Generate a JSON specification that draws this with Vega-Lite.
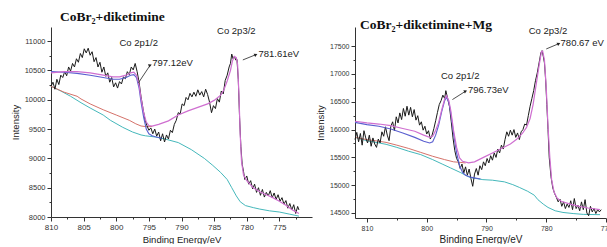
{
"$schema": "https://vega.github.io/schema/vega-lite/v6.json",
"padding": {"left": 10, "top": 10, "right": 0, "bottom": 0},
"spacing": 43,
"bounds": "flush",
"config": {
  "view": {"stroke": null},
  "font": "Liberation Sans",
  "axis": {"domainColor": "#333", "tickColor": "#333", "labelColor": "#333", "titleColor": "#222", "labelFont": "Liberation Sans", "titleFont": "Liberation Sans", "titleFontWeight": "normal", "grid": false, "labelFlush": false, "labelOverlap": false, "domainWidth": 1, "tickWidth": 1, "labelPadding": 2}
},
"datasets": {
"left": [
{"s":"k","E":810.0,"I":10230},{"s":"k","E":809.7,"I":10300},{"s":"k","E":809.4,"I":10180},{"s":"k","E":809.1,"I":10350},{"s":"k","E":808.8,"I":10260},{"s":"k","E":808.5,"I":10420},{"s":"k","E":808.2,"I":10380},{"s":"k","E":807.9,"I":10480},{"s":"k","E":807.6,"I":10410},{"s":"k","E":807.3,"I":10560},{"s":"k","E":807.0,"I":10490},{"s":"k","E":806.7,"I":10620},{"s":"k","E":806.4,"I":10560},{"s":"k","E":806.1,"I":10700},{"s":"k","E":805.8,"I":10640},{"s":"k","E":805.5,"I":10790},{"s":"k","E":805.2,"I":10720},{"s":"k","E":804.9,"I":10870},{"s":"k","E":804.6,"I":10800},{"s":"k","E":804.3,"I":10880},{"s":"k","E":804.0,"I":10760},{"s":"k","E":803.7,"I":10820},{"s":"k","E":803.4,"I":10650},{"s":"k","E":803.1,"I":10720},{"s":"k","E":802.8,"I":10560},{"s":"k","E":802.5,"I":10640},{"s":"k","E":802.2,"I":10470},{"s":"k","E":801.9,"I":10560},{"s":"k","E":801.6,"I":10400},{"s":"k","E":801.3,"I":10460},{"s":"k","E":801.0,"I":10300},{"s":"k","E":800.7,"I":10380},{"s":"k","E":800.4,"I":10220},{"s":"k","E":800.1,"I":10290},{"s":"k","E":799.8,"I":10200},{"s":"k","E":799.5,"I":10310},{"s":"k","E":799.2,"I":10270},{"s":"k","E":798.9,"I":10390},{"s":"k","E":798.6,"I":10360},{"s":"k","E":798.3,"I":10480},{"s":"k","E":798.0,"I":10430},{"s":"k","E":797.7,"I":10560},{"s":"k","E":797.4,"I":10510},{"s":"k","E":797.1,"I":10620},{"s":"k","E":796.8,"I":10480},{"s":"k","E":796.5,"I":10300},{"s":"k","E":796.2,"I":10050},{"s":"k","E":795.9,"I":9850},{"s":"k","E":795.6,"I":9660},{"s":"k","E":795.3,"I":9560},{"s":"k","E":795.0,"I":9480},{"s":"k","E":794.7,"I":9520},{"s":"k","E":794.4,"I":9420},{"s":"k","E":794.1,"I":9500},{"s":"k","E":793.8,"I":9380},{"s":"k","E":793.5,"I":9450},{"s":"k","E":793.2,"I":9300},{"s":"k","E":792.9,"I":9420},{"s":"k","E":792.6,"I":9280},{"s":"k","E":792.3,"I":9400},{"s":"k","E":792.0,"I":9330},{"s":"k","E":791.7,"I":9480},{"s":"k","E":791.4,"I":9440},{"s":"k","E":791.1,"I":9580},{"s":"k","E":790.8,"I":9650},{"s":"k","E":790.5,"I":9780},{"s":"k","E":790.2,"I":9760},{"s":"k","E":789.9,"I":9930},{"s":"k","E":789.6,"I":9900},{"s":"k","E":789.3,"I":10040},{"s":"k","E":789.0,"I":10000},{"s":"k","E":788.7,"I":10110},{"s":"k","E":788.4,"I":10050},{"s":"k","E":788.1,"I":10130},{"s":"k","E":787.8,"I":10060},{"s":"k","E":787.5,"I":10170},{"s":"k","E":787.2,"I":10080},{"s":"k","E":786.9,"I":10140},{"s":"k","E":786.6,"I":10050},{"s":"k","E":786.3,"I":10180},{"s":"k","E":786.0,"I":10090},{"s":"k","E":785.7,"I":9960},{"s":"k","E":785.4,"I":9780},{"s":"k","E":785.1,"I":9900},{"s":"k","E":784.8,"I":9850},{"s":"k","E":784.5,"I":10020},{"s":"k","E":784.2,"I":9960},{"s":"k","E":783.9,"I":10150},{"s":"k","E":783.6,"I":10100},{"s":"k","E":783.3,"I":10330},{"s":"k","E":783.0,"I":10420},{"s":"k","E":782.7,"I":10560},{"s":"k","E":782.5,"I":10620},{"s":"k","E":782.3,"I":10780},{"s":"k","E":782.1,"I":10700},{"s":"k","E":781.9,"I":10740},{"s":"k","E":781.7,"I":10680},{"s":"k","E":781.5,"I":10690},{"s":"k","E":781.3,"I":10350},{"s":"k","E":781.1,"I":9700},{"s":"k","E":780.9,"I":9200},{"s":"k","E":780.7,"I":8900},{"s":"k","E":780.5,"I":8780},{"s":"k","E":780.3,"I":8640},{"s":"k","E":780.0,"I":8700},{"s":"k","E":779.7,"I":8560},{"s":"k","E":779.4,"I":8620},{"s":"k","E":779.1,"I":8480},{"s":"k","E":778.8,"I":8560},{"s":"k","E":778.5,"I":8420},{"s":"k","E":778.2,"I":8500},{"s":"k","E":777.9,"I":8370},{"s":"k","E":777.6,"I":8470},{"s":"k","E":777.3,"I":8340},{"s":"k","E":777.0,"I":8420},{"s":"k","E":776.7,"I":8360},{"s":"k","E":776.4,"I":8450},{"s":"k","E":776.1,"I":8330},{"s":"k","E":775.8,"I":8410},{"s":"k","E":775.5,"I":8300},{"s":"k","E":775.2,"I":8380},{"s":"k","E":774.9,"I":8270},{"s":"k","E":774.6,"I":8330},{"s":"k","E":774.3,"I":8220},{"s":"k","E":774.0,"I":8280},{"s":"k","E":773.7,"I":8150},{"s":"k","E":773.4,"I":8230},{"s":"k","E":773.1,"I":8120},{"s":"k","E":772.8,"I":8210},{"s":"k","E":772.5,"I":8060},{"s":"k","E":772.2,"I":8180},{"s":"k","E":772.0,"I":8120},
{"s":"m","E":810,"I":10460},{"s":"m","E":808,"I":10480},{"s":"m","E":806,"I":10480},{"s":"m","E":804,"I":10460},{"s":"m","E":802,"I":10420},{"s":"m","E":800.5,"I":10390},{"s":"m","E":799.5,"I":10390},{"s":"m","E":798.5,"I":10420},{"s":"m","E":797.8,"I":10460},{"s":"m","E":797.3,"I":10470},{"s":"m","E":796.9,"I":10420},{"s":"m","E":796.5,"I":10250},{"s":"m","E":796.2,"I":10030},{"s":"m","E":795.8,"I":9780},{"s":"m","E":795.4,"I":9620},{"s":"m","E":795.0,"I":9560},{"s":"m","E":794.5,"I":9550},{"s":"m","E":793.5,"I":9580},{"s":"m","E":792,"I":9640},{"s":"m","E":790.5,"I":9740},{"s":"m","E":789,"I":9810},{"s":"m","E":787.5,"I":9870},{"s":"m","E":786,"I":9930},{"s":"m","E":785,"I":9990},{"s":"m","E":784,"I":10080},{"s":"m","E":783.5,"I":10170},{"s":"m","E":783,"I":10320},{"s":"m","E":782.5,"I":10500},{"s":"m","E":782.2,"I":10660},{"s":"m","E":781.9,"I":10740},{"s":"m","E":781.6,"I":10720},{"s":"m","E":781.4,"I":10600},{"s":"m","E":781.2,"I":10100},{"s":"m","E":781.0,"I":9400},{"s":"m","E":780.8,"I":8950},{"s":"m","E":780.5,"I":8720},{"s":"m","E":780.0,"I":8620},{"s":"m","E":779,"I":8500},{"s":"m","E":778,"I":8430},{"s":"m","E":777,"I":8380},{"s":"m","E":776,"I":8330},{"s":"m","E":775,"I":8270},{"s":"m","E":774,"I":8200},{"s":"m","E":773,"I":8120},{"s":"m","E":772,"I":8060},
{"s":"b","E":810,"I":10480},{"s":"b","E":808,"I":10470},{"s":"b","E":806,"I":10450},{"s":"b","E":804,"I":10420},{"s":"b","E":802,"I":10380},{"s":"b","E":800.5,"I":10350},{"s":"b","E":799.5,"I":10350},{"s":"b","E":798.5,"I":10380},{"s":"b","E":797.8,"I":10420},{"s":"b","E":797.3,"I":10430},{"s":"b","E":796.9,"I":10380},{"s":"b","E":796.5,"I":10200},{"s":"b","E":796.2,"I":9960},{"s":"b","E":795.8,"I":9700},{"s":"b","E":795.4,"I":9500},{"s":"b","E":795.0,"I":9420},{"s":"b","E":794.5,"I":9385},{"s":"b","E":794,"I":9368},{"s":"b","E":793,"I":9345},
{"s":"r","E":810,"I":10230},{"s":"r","E":808,"I":10130},{"s":"r","E":806,"I":10060},{"s":"r","E":805.4,"I":10014},{"s":"r","E":804,"I":9930},{"s":"r","E":802,"I":9830},{"s":"r","E":800,"I":9740},{"s":"r","E":798,"I":9650},{"s":"r","E":797,"I":9590},{"s":"r","E":796.2,"I":9553},{"s":"r","E":795.3,"I":9540},{"s":"r","E":794.5,"I":9545},
{"s":"c","E":810,"I":10230},{"s":"c","E":808.5,"I":10150},{"s":"c","E":807,"I":10060},{"s":"c","E":805.4,"I":9950},{"s":"c","E":804,"I":9860},{"s":"c","E":802,"I":9740},{"s":"c","E":800.9,"I":9650},{"s":"c","E":799,"I":9530},{"s":"c","E":797.5,"I":9450},{"s":"c","E":796.2,"I":9400},{"s":"c","E":795.5,"I":9385},{"s":"c","E":794,"I":9365},{"s":"c","E":792.5,"I":9330},{"s":"c","E":790.5,"I":9270},{"s":"c","E":788.5,"I":9150},{"s":"c","E":786.5,"I":9000},{"s":"c","E":785.2,"I":8880},{"s":"c","E":784,"I":8760},{"s":"c","E":783,"I":8640},{"s":"c","E":782.3,"I":8500},{"s":"c","E":781.6,"I":8360},{"s":"c","E":781,"I":8260},{"s":"c","E":780.2,"I":8195},{"s":"c","E":779,"I":8160},{"s":"c","E":778,"I":8135},{"s":"c","E":776.5,"I":8105},{"s":"c","E":775,"I":8085},{"s":"c","E":773.5,"I":8050},{"s":"c","E":772,"I":8015}
],
"right": [
{"s":"k","E":812.0,"I":15820},{"s":"k","E":811.7,"I":15950},{"s":"k","E":811.4,"I":15780},{"s":"k","E":811.1,"I":15930},{"s":"k","E":810.8,"I":15720},{"s":"k","E":810.5,"I":15980},{"s":"k","E":810.2,"I":15850},{"s":"k","E":809.9,"I":15760},{"s":"k","E":809.6,"I":15900},{"s":"k","E":809.3,"I":15700},{"s":"k","E":809.0,"I":15850},{"s":"k","E":808.7,"I":15740},{"s":"k","E":808.4,"I":15680},{"s":"k","E":808.1,"I":15830},{"s":"k","E":807.8,"I":15760},{"s":"k","E":807.5,"I":15960},{"s":"k","E":807.2,"I":15880},{"s":"k","E":806.9,"I":16050},{"s":"k","E":806.6,"I":15900},{"s":"k","E":806.3,"I":15800},{"s":"k","E":806.0,"I":16060},{"s":"k","E":805.7,"I":16140},{"s":"k","E":805.4,"I":15980},{"s":"k","E":805.1,"I":16230},{"s":"k","E":804.8,"I":16120},{"s":"k","E":804.5,"I":16300},{"s":"k","E":804.2,"I":16180},{"s":"k","E":803.9,"I":16380},{"s":"k","E":803.6,"I":16240},{"s":"k","E":803.3,"I":16420},{"s":"k","E":803.0,"I":16260},{"s":"k","E":802.7,"I":16400},{"s":"k","E":802.4,"I":16230},{"s":"k","E":802.1,"I":16360},{"s":"k","E":801.8,"I":16170},{"s":"k","E":801.5,"I":16250},{"s":"k","E":801.2,"I":16080},{"s":"k","E":800.9,"I":16140},{"s":"k","E":800.6,"I":15990},{"s":"k","E":800.3,"I":16060},{"s":"k","E":800.0,"I":15920},{"s":"k","E":799.7,"I":15980},{"s":"k","E":799.4,"I":15830},{"s":"k","E":799.1,"I":15900},{"s":"k","E":798.8,"I":16020},{"s":"k","E":798.5,"I":16160},{"s":"k","E":798.2,"I":16310},{"s":"k","E":797.9,"I":16450},{"s":"k","E":797.6,"I":16520},{"s":"k","E":797.3,"I":16620},{"s":"k","E":797.0,"I":16560},{"s":"k","E":796.8,"I":16700},{"s":"k","E":796.5,"I":16560},{"s":"k","E":796.2,"I":16420},{"s":"k","E":795.9,"I":16150},{"s":"k","E":795.6,"I":15850},{"s":"k","E":795.3,"I":15620},{"s":"k","E":795.0,"I":15480},{"s":"k","E":794.7,"I":15420},{"s":"k","E":794.4,"I":15300},{"s":"k","E":794.1,"I":15380},{"s":"k","E":793.8,"I":15220},{"s":"k","E":793.5,"I":15330},{"s":"k","E":793.2,"I":15180},{"s":"k","E":792.9,"I":15290},{"s":"k","E":792.6,"I":15120},{"s":"k","E":792.3,"I":14980},{"s":"k","E":792.0,"I":15200},{"s":"k","E":791.7,"I":15300},{"s":"k","E":791.4,"I":15180},{"s":"k","E":791.1,"I":15350},{"s":"k","E":790.8,"I":15280},{"s":"k","E":790.5,"I":15420},{"s":"k","E":790.2,"I":15350},{"s":"k","E":789.9,"I":15480},{"s":"k","E":789.6,"I":15400},{"s":"k","E":789.3,"I":15530},{"s":"k","E":789.0,"I":15450},{"s":"k","E":788.7,"I":15580},{"s":"k","E":788.4,"I":15500},{"s":"k","E":788.1,"I":15650},{"s":"k","E":787.8,"I":15580},{"s":"k","E":787.5,"I":15720},{"s":"k","E":787.2,"I":15650},{"s":"k","E":786.9,"I":15820},{"s":"k","E":786.6,"I":15960},{"s":"k","E":786.3,"I":15880},{"s":"k","E":786.0,"I":15990},{"s":"k","E":785.7,"I":15900},{"s":"k","E":785.4,"I":16000},{"s":"k","E":785.1,"I":15860},{"s":"k","E":784.8,"I":15940},{"s":"k","E":784.5,"I":15820},{"s":"k","E":784.2,"I":15960},{"s":"k","E":783.9,"I":16000},{"s":"k","E":783.6,"I":16100},{"s":"k","E":783.3,"I":16080},{"s":"k","E":783.0,"I":16250},{"s":"k","E":782.7,"I":16420},{"s":"k","E":782.4,"I":16560},{"s":"k","E":782.1,"I":16700},{"s":"k","E":781.8,"I":16880},{"s":"k","E":781.5,"I":17020},{"s":"k","E":781.2,"I":17200},{"s":"k","E":780.9,"I":17380},{"s":"k","E":780.7,"I":17420},{"s":"k","E":780.5,"I":17320},{"s":"k","E":780.3,"I":17200},{"s":"k","E":780.1,"I":16900},{"s":"k","E":779.9,"I":16450},{"s":"k","E":779.7,"I":16000},{"s":"k","E":779.5,"I":15500},{"s":"k","E":779.2,"I":15150},{"s":"k","E":778.9,"I":14950},{"s":"k","E":778.6,"I":14850},{"s":"k","E":778.3,"I":14780},{"s":"k","E":778.0,"I":14700},{"s":"k","E":777.7,"I":14750},{"s":"k","E":777.4,"I":14620},{"s":"k","E":777.1,"I":14700},{"s":"k","E":776.8,"I":14580},{"s":"k","E":776.5,"I":14660},{"s":"k","E":776.2,"I":14600},{"s":"k","E":775.9,"I":14720},{"s":"k","E":775.6,"I":14560},{"s":"k","E":775.3,"I":14760},{"s":"k","E":775.0,"I":14580},{"s":"k","E":774.7,"I":14640},{"s":"k","E":774.4,"I":14540},{"s":"k","E":774.1,"I":14700},{"s":"k","E":773.8,"I":14560},{"s":"k","E":773.5,"I":14740},{"s":"k","E":773.2,"I":14500},{"s":"k","E":772.9,"I":14450},{"s":"k","E":772.6,"I":14620},{"s":"k","E":772.3,"I":14520},{"s":"k","E":772.0,"I":14580},{"s":"k","E":771.7,"I":14490},{"s":"k","E":771.4,"I":14560},{"s":"k","E":771.1,"I":14520},{"s":"k","E":770.8,"I":14560},
{"s":"m","E":812,"I":16150},{"s":"m","E":810,"I":16120},{"s":"m","E":808,"I":16100},{"s":"m","E":806,"I":16070},{"s":"m","E":804,"I":16020},{"s":"m","E":802,"I":15970},{"s":"m","E":800.5,"I":15900},{"s":"m","E":799.5,"I":15860},{"s":"m","E":799,"I":15880},{"s":"m","E":798.5,"I":15990},{"s":"m","E":798,"I":16130},{"s":"m","E":797.5,"I":16350},{"s":"m","E":797,"I":16550},{"s":"m","E":796.7,"I":16610},{"s":"m","E":796.3,"I":16520},{"s":"m","E":796,"I":16360},{"s":"m","E":795.5,"I":15980},{"s":"m","E":795,"I":15680},{"s":"m","E":794.5,"I":15490},{"s":"m","E":794,"I":15430},{"s":"m","E":793,"I":15400},{"s":"m","E":792,"I":15420},{"s":"m","E":790.5,"I":15500},{"s":"m","E":789,"I":15580},{"s":"m","E":787.5,"I":15660},{"s":"m","E":786,"I":15740},{"s":"m","E":785,"I":15820},{"s":"m","E":784,"I":15930},{"s":"m","E":783.3,"I":16040},{"s":"m","E":782.7,"I":16200},{"s":"m","E":782.2,"I":16450},{"s":"m","E":781.7,"I":16800},{"s":"m","E":781.2,"I":17150},{"s":"m","E":780.8,"I":17400},{"s":"m","E":780.6,"I":17410},{"s":"m","E":780.3,"I":17250},{"s":"m","E":780,"I":16750},{"s":"m","E":779.7,"I":16050},{"s":"m","E":779.4,"I":15500},{"s":"m","E":779.1,"I":15100},{"s":"m","E":778.7,"I":14880},{"s":"m","E":778.2,"I":14770},{"s":"m","E":777.5,"I":14710},{"s":"m","E":776,"I":14660},{"s":"m","E":774.5,"I":14620},{"s":"m","E":773,"I":14590},{"s":"m","E":771,"I":14560},
{"s":"b","E":812,"I":16130},{"s":"b","E":810,"I":16090},{"s":"b","E":808,"I":16060},{"s":"b","E":806,"I":16010},{"s":"b","E":804,"I":15940},{"s":"b","E":802,"I":15860},{"s":"b","E":800.5,"I":15790},{"s":"b","E":799.5,"I":15760},{"s":"b","E":799,"I":15780},{"s":"b","E":798.5,"I":15900},{"s":"b","E":798,"I":16080},{"s":"b","E":797.5,"I":16320},{"s":"b","E":797,"I":16520},{"s":"b","E":796.7,"I":16580},{"s":"b","E":796.3,"I":16490},{"s":"b","E":796,"I":16320},{"s":"b","E":795.5,"I":15920},{"s":"b","E":795,"I":15580},{"s":"b","E":794.5,"I":15350},{"s":"b","E":794,"I":15230},{"s":"b","E":793.5,"I":15180},{"s":"b","E":792.5,"I":15140},{"s":"b","E":791,"I":15110},
{"s":"r","E":812,"I":15860},{"s":"r","E":810,"I":15820},{"s":"r","E":808,"I":15790},{"s":"r","E":806.8,"I":15770},{"s":"r","E":805,"I":15720},{"s":"r","E":803,"I":15660},{"s":"r","E":801,"I":15590},{"s":"r","E":799,"I":15520},{"s":"r","E":797,"I":15460},{"s":"r","E":795.5,"I":15420},{"s":"r","E":794.4,"I":15410},{"s":"r","E":793.5,"I":15400},
{"s":"c","E":812,"I":15860},{"s":"c","E":810,"I":15800},{"s":"c","E":808,"I":15760},{"s":"c","E":806.8,"I":15735},{"s":"c","E":805,"I":15680},{"s":"c","E":803,"I":15610},{"s":"c","E":801,"I":15550},{"s":"c","E":799,"I":15460},{"s":"c","E":797.3,"I":15375},{"s":"c","E":796,"I":15310},{"s":"c","E":794.4,"I":15230},{"s":"c","E":792.8,"I":15140},{"s":"c","E":790.6,"I":15100},{"s":"c","E":789,"I":15090},{"s":"c","E":787,"I":15060},{"s":"c","E":785.6,"I":15010},{"s":"c","E":784.5,"I":14960},{"s":"c","E":783.1,"I":14890},{"s":"c","E":782,"I":14820},{"s":"c","E":781.4,"I":14740},{"s":"c","E":780.5,"I":14660},{"s":"c","E":779.7,"I":14600},{"s":"c","E":778.5,"I":14540},{"s":"c","E":777.2,"I":14510},{"s":"c","E":775.5,"I":14490},{"s":"c","E":773.8,"I":14475},{"s":"c","E":771,"I":14470}
]
},
"hconcat": [
{
 "width": 261, "height": 190,
 "title": {"text": "CoBr₂+diketimine", "anchor": "start", "frame": "group", "dx": 9, "offset": 2, "font": "Liberation Serif", "fontSize": 13.5, "fontWeight": "bold", "color": "#111"},
 "data": {"name": "left"},
 "encoding": {
  "x": {"field": "E", "type": "quantitative",
   "scale": {"domain": [770, 810], "reverse": true, "nice": false, "zero": false},
   "axis": {"title": "Binding Energy/eV", "titleFontSize": 9.5, "titlePadding": 3, "labelFontSize": 8,
    "values": [810, 807.5, 805, 802.5, 800, 797.5, 795, 792.5, 790, 787.5, 785, 782.5, 780, 777.5, 775, 772.5],
    "labelExpr": "datum.value % 5 === 0 ? datum.label : ''",
    "tickSize": {"condition": {"test": "datum.value % 5 === 0", "value": 4}, "value": 2}}},
  "y": {"field": "I", "type": "quantitative",
   "scale": {"domain": [8000, 11242], "nice": false, "zero": false},
   "axis": {"title": "Intensity", "titleFontSize": 9.5, "titlePadding": 4, "labelFontSize": 7.5,
    "values": [8000, 8250, 8500, 8750, 9000, 9250, 9500, 9750, 10000, 10250, 10500, 10750, 11000],
    "labelExpr": "datum.value % 500 === 0 ? datum.label : ''",
    "format": "d",
    "tickSize": {"condition": {"test": "datum.value % 500 === 0", "value": 4}, "value": 2}}}
 },
 "layer": [
  {"transform": [{"filter": "datum.s === 'c'"}], "mark": {"type": "line", "color": "#45b8bb", "strokeWidth": 1}},
  {"transform": [{"filter": "datum.s === 'r'"}], "mark": {"type": "line", "color": "#d5726a", "strokeWidth": 1}},
  {"transform": [{"filter": "datum.s === 'k'"}], "mark": {"type": "line", "color": "#1a1a1a", "strokeWidth": 1}},
  {"transform": [{"filter": "datum.s === 'b'"}], "mark": {"type": "line", "color": "#5a5fd0", "strokeWidth": 1.1}},
  {"transform": [{"filter": "datum.s === 'm'"}], "mark": {"type": "line", "color": "#cf6fd0", "strokeWidth": 1.2}},
  {"data": {"values": [{"E": 796.6, "I": 10290, "E2": 794.8, "I2": 10590}, {"E": 780.6, "I": 10680, "E2": 778.6, "I2": 10770}]},
   "mark": {"type": "rule", "color": "#222", "strokeWidth": 0.8},
   "encoding": {"x2": {"field": "E2"}, "y2": {"field": "I2"}}},
  {"data": {"values": [{"E": 794.8, "I": 10590}, {"E": 778.6, "I": 10770}]},
   "mark": {"type": "point", "shape": "triangle-right", "angle": -25, "filled": true, "size": 14, "color": "#222", "opacity": 1}},
  {"data": {"values": [{"t": "Co 2p1/2", "E": 796.56, "I": 10969}, {"t": "Co 2p3/2", "E": 781.6, "I": 11174}]},
   "mark": {"type": "text", "align": "center", "baseline": "middle", "font": "Liberation Sans", "fontSize": 9.5, "color": "#222"},
   "encoding": {"text": {"field": "t"}}},
  {"data": {"values": [{"t": "797.12eV", "E": 794.5, "I": 10628}, {"t": "781.61eV", "E": 778.2, "I": 10782}]},
   "mark": {"type": "text", "align": "left", "baseline": "middle", "font": "Liberation Sans", "fontSize": 9.5, "color": "#222"},
   "encoding": {"text": {"field": "t"}}}
 ]
},
{
 "width": 251, "height": 191,
 "title": {"text": "CoBr₂+diketimine+Mg", "anchor": "start", "frame": "group", "dx": 5, "offset": -5, "font": "Liberation Serif", "fontSize": 13.5, "fontWeight": "bold", "color": "#111"},
 "data": {"name": "right"},
 "encoding": {
  "x": {"field": "E", "type": "quantitative",
   "scale": {"domain": [770, 812], "reverse": true, "nice": false, "zero": false},
   "axis": {"title": "Binding Energy/eV", "titleFontSize": 10, "titlePadding": 3, "labelFontSize": 7,
    "values": [810, 805, 800, 795, 790, 785, 780, 775, 770],
    "labelExpr": "datum.value % 10 === 0 ? datum.label : ''",
    "tickSize": {"condition": {"test": "datum.value % 10 === 0", "value": 4}, "value": 2}}},
  "y": {"field": "I", "type": "quantitative",
   "scale": {"domain": [14410, 17845], "nice": false, "zero": false},
   "axis": {"title": "Intensity", "titleFontSize": 9.5, "titlePadding": 4, "labelFontSize": 7,
    "values": [14500, 14750, 15000, 15250, 15500, 15750, 16000, 16250, 16500, 16750, 17000, 17250, 17500],
    "labelExpr": "datum.value % 500 === 0 ? datum.label : ''",
    "format": "d",
    "tickSize": {"condition": {"test": "datum.value % 500 === 0", "value": 4}, "value": 2}}}
 },
 "layer": [
  {"transform": [{"filter": "datum.s === 'c'"}], "mark": {"type": "line", "color": "#45b8bb", "strokeWidth": 1}},
  {"transform": [{"filter": "datum.s === 'r'"}], "mark": {"type": "line", "color": "#d5726a", "strokeWidth": 1}},
  {"transform": [{"filter": "datum.s === 'k'"}], "mark": {"type": "line", "color": "#1a1a1a", "strokeWidth": 1}},
  {"transform": [{"filter": "datum.s === 'b'"}], "mark": {"type": "line", "color": "#5a5fd0", "strokeWidth": 1.1}},
  {"transform": [{"filter": "datum.s === 'm'"}], "mark": {"type": "line", "color": "#cf6fd0", "strokeWidth": 1.2}},
  {"data": {"values": [{"E": 795.7, "I": 16540, "E2": 793.5, "I2": 16690}, {"E": 780.0, "I": 17450, "E2": 777.9, "I2": 17545}]},
   "mark": {"type": "rule", "color": "#222", "strokeWidth": 0.8},
   "encoding": {"x2": {"field": "E2"}, "y2": {"field": "I2"}}},
  {"data": {"values": [{"E": 793.5, "I": 16690}, {"E": 777.9, "I": 17545}]},
   "mark": {"type": "point", "shape": "triangle-right", "angle": -25, "filled": true, "size": 14, "color": "#222", "opacity": 1}},
  {"data": {"values": [{"t": "Co 2p1/2", "E": 794.4, "I": 16960}, {"t": "Co 2p3/2", "E": 779.7, "I": 17770}]},
   "mark": {"type": "text", "align": "center", "baseline": "middle", "font": "Liberation Sans", "fontSize": 9.5, "color": "#222"},
   "encoding": {"text": {"field": "t"}}},
  {"data": {"values": [{"t": "796.73eV", "E": 793.1, "I": 16707}, {"t": "780.67 eV", "E": 777.6, "I": 17554}]},
   "mark": {"type": "text", "align": "left", "baseline": "middle", "font": "Liberation Sans", "fontSize": 9.5, "color": "#222"},
   "encoding": {"text": {"field": "t"}}}
 ]
}
]
}
